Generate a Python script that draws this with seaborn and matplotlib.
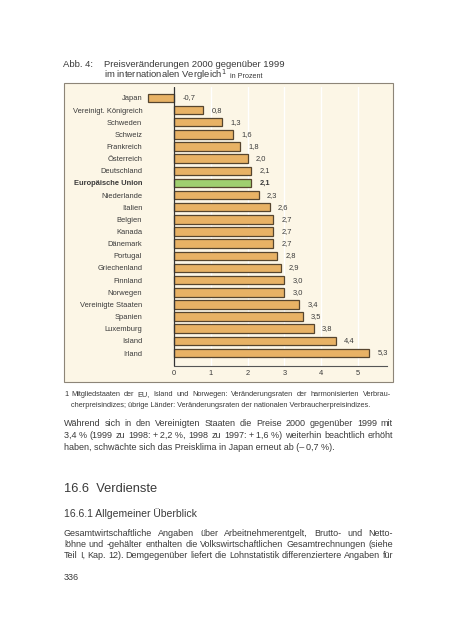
import matplotlib
matplotlib.use("Agg")
import matplotlib.pyplot as plt
from matplotlib.patches import Rectangle
import seaborn as sns

# data
countries = ["Japan", "Vereinigt. Königreich", "Schweden", "Schweiz", "Frankreich",
             "Österreich", "Deutschland", "Europäische Union", "Niederlande", "Italien",
             "Belgien", "Kanada", "Dänemark", "Portugal", "Griechenland", "Finnland",
             "Norwegen", "Vereinigte Staaten", "Spanien", "Luxemburg", "Island", "Irland"]
values = [-0.7, 0.8, 1.3, 1.6, 1.8, 2.0, 2.1, 2.1, 2.3, 2.6, 2.7, 2.7, 2.7, 2.8,
          2.9, 3.0, 3.0, 3.4, 3.5, 3.8, 4.4, 5.3]
highlight = "Europäische Union"
xticks = [0, 1, 2, 3, 4, 5]

ORANGE = "#e8b265"
GREEN = "#9fcf6f"
EDGE = "#56452e"
CREAM = "#fcf6e6"
TXT = "#3a3a3a"

sns.set_style("white")
plt.rcParams['font.family'] = ['Liberation Sans', 'DejaVu Sans']

W, H = 452, 640
fig = plt.figure(figsize=(W / 100, H / 100), dpi=100)


def px(x, y):
    return x / W, 1 - y / H


# cream frame behind the chart
fig.patches.append(Rectangle(px(64, 382), 329 / W, 299 / H, transform=fig.transFigure,
                             facecolor=CREAM, edgecolor="#8d8578", linewidth=0.8, zorder=-5))

ax = fig.add_axes([146.4 / W, 1 - 366 / H, 241 / W, 279 / H])
ax.set_zorder(2)
ax.patch.set_visible(False)

palette = {c: (GREEN if c == highlight else ORANGE) for c in countries}
sns.barplot(x=values, y=countries, hue=countries, palette=palette, legend=False,
            orient="h", width=0.7, edgecolor=EDGE, linewidth=0.9, saturation=1, ax=ax)

ax.set_xlim(-0.75, 5.8)
ax.set_ylim(len(countries) - 1 + 1.07, -0.9)
ax.set_xticks(xticks)
ax.set_xticklabels([str(t) for t in xticks])
ax.xaxis.grid(True, color="white", linewidth=1.0)
ax.set_axisbelow(True)
ax.tick_params(axis="both", length=0, labelsize=5.4, colors=TXT)
ax.tick_params(axis="y", pad=3)
ax.tick_params(axis="x", pad=3)
for s in ["top", "right", "left"]:
    ax.spines[s].set_visible(False)
ax.spines["bottom"].set_bounds(0, 5.8)
ax.spines["bottom"].set_color("#555555")
ax.spines["bottom"].set_linewidth(0.8)
ax.axvline(0, color="#333333", linewidth=0.9, zorder=3)
ax.set_xlabel("")
ax.set_ylabel("")

for lab in ax.get_yticklabels():
    if lab.get_text() == highlight:
        lab.set_fontweight("bold")

for i, (c, v) in enumerate(zip(countries, values)):
    txt = f"{v:.1f}".replace(".", ",")
    ax.annotate(txt, (max(v, 0), i), xytext=(6, 0), textcoords="offset points",
                va="center", ha="left", fontsize=5.4, color=TXT,
                fontweight="bold" if c == highlight else "normal")

renderer = fig.canvas.get_renderer()


def line(text, x0, y, size, x1=None):
    # y is the baseline in pixels
    if x1 is None:
        fig.text(*px(x0, y), text, fontsize=size, color=TXT, va="baseline")
        return
    words = text.split(" ")
    ts = [fig.text(0, 0, w, fontsize=size, color=TXT, va="baseline") for w in words]
    widths = [t.get_window_extent(renderer).width for t in ts]
    gap = (x1 - x0 - sum(widths)) / max(len(words) - 1, 1)
    x = x0
    for t, w in zip(ts, widths):
        t.set_position(px(x, y))
        x += w + gap


# caption
line("Abb. 4:", 63, 67, 6.8)
line("Preisveränderungen 2000 gegenüber 1999", 104, 67, 6.8)
line("im internationalen Vergleich$^1$", 104, 78, 6.8)
line("in Prozent", 230, 78, 5.2)

# footnote
line("1", 64, 396, 5.3)
line("Mitgliedstaaten der EU, Island und Norwegen: Veränderungsraten der harmonisierten Verbrau-",
     71, 396, 5.3, 391)
line("cherpreisindizes; übrige Länder: Veränderungsraten der nationalen Verbraucherpreisindizes.",
     71, 407, 5.3)

# body text
line("Während sich in den Vereinigten Staaten die Preise 2000 gegenüber 1999 mit",
     64, 426, 6.5, 393)
line("3,4\u00a0% (1999 zu 1998: +\u20092,2\u00a0%, 1998 zu 1997: +\u20091,6\u00a0%) weiterhin beachtlich erhöht",
     64, 438, 6.5, 393)
line("haben, schwächte sich das Preisklima in Japan erneut ab (–\u20090,7\u00a0%).", 64, 450, 6.5)

line("16.6  Verdienste", 64, 492, 9.3)
line("16.6.1 Allgemeiner Überblick", 64, 517, 7.5)

line("Gesamtwirtschaftliche Angaben über Arbeitnehmerentgelt, Brutto- und Netto-",
     64, 536, 6.5, 393)
line("löhne und -gehälter enthalten die Volkswirtschaftlichen Gesamtrechnungen (siehe",
     64, 547, 6.5, 393)
line("Teil I, Kap. 12). Demgegenüber liefert die Lohnstatistik differenziertere Angaben für",
     64, 558, 6.5, 393)

line("336", 64, 580, 6.5)

fig.savefig("out.png", dpi=100)
